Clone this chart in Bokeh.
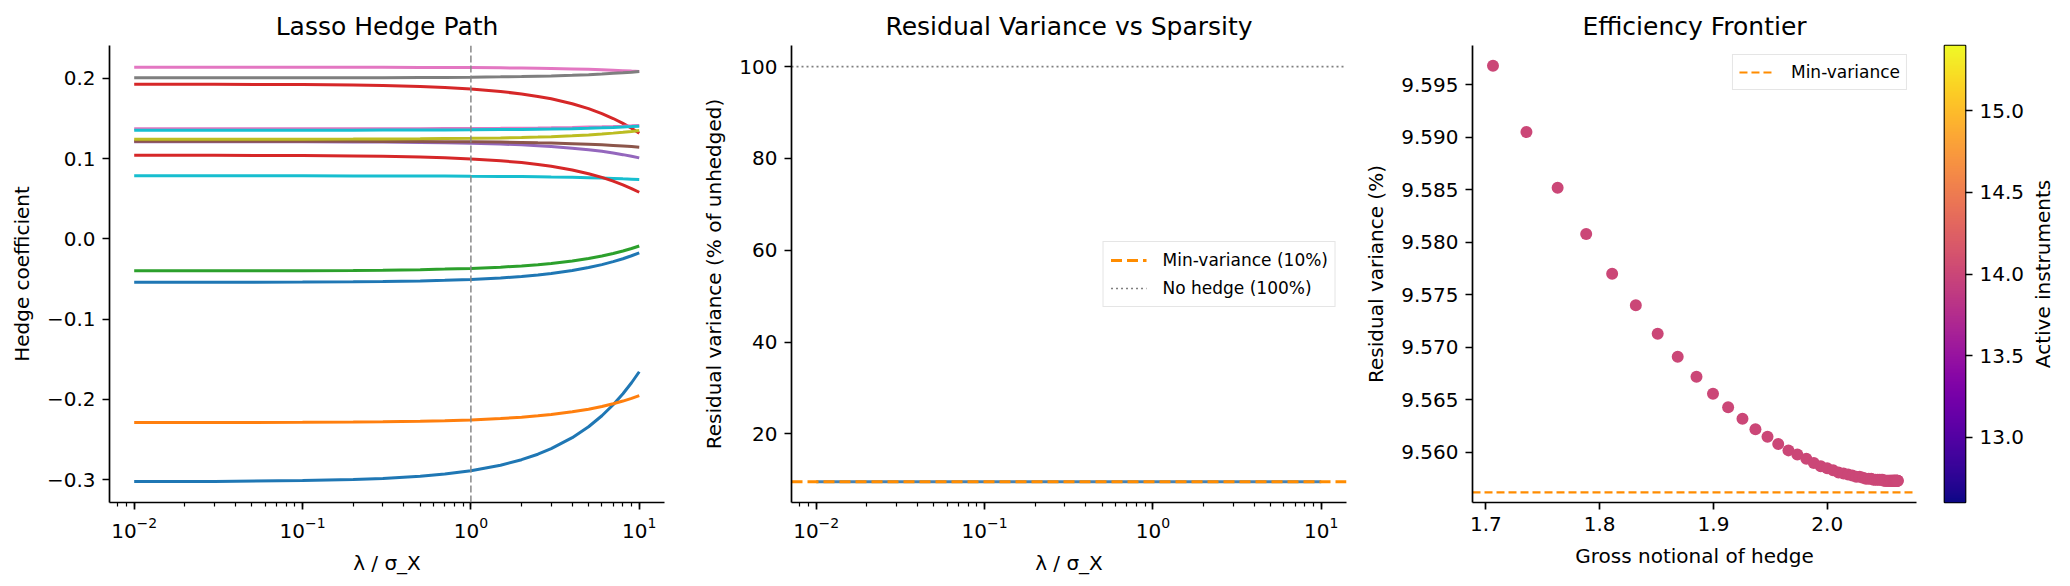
import numpy as np
from bokeh.plotting import figure
from bokeh.layouts import row
from bokeh.models import (Range1d, FixedTicker, LogTicker, Span, Legend, LegendItem,
                          LinearColorMapper)
from bokeh.palettes import Plasma256
from bokeh.embed import file_html
from bokeh.resources import INLINE

FONT = "DejaVu Sans"

# ---------------- Lasso hedge path: coefficient of each active instrument vs lambda
lam_path = [0.01, 0.03, 0.1, 0.2, 0.3, 0.5, 0.7, 1, 1.5, 2, 2.5, 3, 4, 5, 6, 7, 8, 9, 10]

coef_inst00 = [-0.3023, -0.3020, -0.3010, -0.2997, -0.2983, -0.2956, -0.2928, -0.2887, -0.2819, -0.2750,
               -0.2682, -0.2613, -0.2476, -0.2340, -0.2203, -0.2066, -0.1929, -0.1792, -0.1655]
coef_inst01 = [-0.2288, -0.2287, -0.2285, -0.2281, -0.2278, -0.2271, -0.2265, -0.2255, -0.2238, -0.2221,
               -0.2204, -0.2188, -0.2154, -0.2121, -0.2087, -0.2054, -0.2020, -0.1987, -0.1953]
coef_inst02 = [-0.0399, -0.0398, -0.0396, -0.0393, -0.0390, -0.0384, -0.0377, -0.0368, -0.0353, -0.0337,
               -0.0322, -0.0306, -0.0275, -0.0244, -0.0214, -0.0183, -0.0152, -0.0121, -0.0090]
coef_inst03 = [0.1925, 0.1924, 0.1920, 0.1914, 0.1908, 0.1895, 0.1883, 0.1865, 0.1834, 0.1804,
               0.1773, 0.1743, 0.1682, 0.1621, 0.1559, 0.1498, 0.1437, 0.1376, 0.1315]
coef_inst04 = [0.1210, 0.1209, 0.1208, 0.1206, 0.1204, 0.1200, 0.1196, 0.1190, 0.1180, 0.1170,
               0.1160, 0.1149, 0.1129, 0.1109, 0.1089, 0.1069, 0.1048, 0.1028, 0.1008]
coef_inst05 = [0.1215, 0.1215, 0.1214, 0.1214, 0.1213, 0.1211, 0.1210, 0.1208, 0.1204, 0.1200,
               0.1196, 0.1193, 0.1185, 0.1178, 0.1170, 0.1163, 0.1155, 0.1148, 0.1140]
coef_inst06 = [0.2137, 0.2137, 0.2136, 0.2136, 0.2135, 0.2134, 0.2133, 0.2132, 0.2129, 0.2126,
               0.2124, 0.2121, 0.2115, 0.2110, 0.2105, 0.2099, 0.2094, 0.2088, 0.2083]
coef_inst07 = [0.2005, 0.2005, 0.2006, 0.2007, 0.2007, 0.2009, 0.2010, 0.2013, 0.2017, 0.2021,
               0.2025, 0.2028, 0.2036, 0.2044, 0.2052, 0.2060, 0.2067, 0.2075, 0.2083]
coef_inst08 = [0.1240, 0.1240, 0.1241, 0.1242, 0.1243, 0.1245, 0.1248, 0.1251, 0.1256, 0.1262,
               0.1267, 0.1272, 0.1283, 0.1294, 0.1305, 0.1316, 0.1326, 0.1337, 0.1348]
coef_inst09 = [0.0784, 0.0784, 0.0784, 0.0783, 0.0783, 0.0782, 0.0781, 0.0779, 0.0777, 0.0775,
               0.0773, 0.0770, 0.0766, 0.0761, 0.0756, 0.0752, 0.0747, 0.0743, 0.0738]
coef_inst10 = [-0.0542, -0.0541, -0.0538, -0.0535, -0.0531, -0.0524, -0.0516, -0.0505, -0.0487, -0.0468,
               -0.0450, -0.0432, -0.0395, -0.0358, -0.0321, -0.0284, -0.0248, -0.0211, -0.0174]
coef_inst13 = [0.1041, 0.1040, 0.1036, 0.1032, 0.1027, 0.1018, 0.1009, 0.0995, 0.0972, 0.0949,
               0.0926, 0.0903, 0.0857, 0.0811, 0.0765, 0.0718, 0.0672, 0.0626, 0.0580]
coef_inst16 = [0.1370, 0.1370, 0.1370, 0.1371, 0.1371, 0.1372, 0.1373, 0.1374, 0.1376, 0.1378,
               0.1380, 0.1382, 0.1386, 0.1391, 0.1395, 0.1399, 0.1403, 0.1407, 0.1411]
coef_inst19 = [0.1352, 0.1352, 0.1353, 0.1353, 0.1354, 0.1355, 0.1356, 0.1357, 0.1360, 0.1362,
               0.1365, 0.1367, 0.1372, 0.1377, 0.1382, 0.1387, 0.1392, 0.1397, 0.1402]

coef_paths = [coef_inst00, coef_inst01, coef_inst02, coef_inst03, coef_inst04, coef_inst05,
              coef_inst06, coef_inst07, coef_inst08, coef_inst09, coef_inst10, coef_inst13,
              coef_inst16, coef_inst19]
coef_colors = ["#1f77b4", "#ff7f0e", "#2ca02c", "#d62728", "#9467bd", "#8c564b",
               "#e377c2", "#7f7f7f", "#bcbd22", "#17becf", "#1f77b4", "#d62728",
               "#e377c2", "#17becf"]
chosen_lambda = 1.0

# ---------------- Residual variance along the path (% of unhedged)
resid_lam = [0.01, 0.1, 0.3, 1, 2, 3, 5, 7, 10]
resid_pct = [9.5573, 9.5573, 9.5574, 9.5577, 9.5589, 9.5609, 9.5672, 9.5767, 9.5968]
min_variance_pct = 9.5562
no_hedge_pct = 100.0

# ---------------- Efficiency frontier: gross notional vs residual variance
gross_notional = [1.7063, 1.7357, 1.7631, 1.7882, 1.8110, 1.8318, 1.8510, 1.8686, 1.8851, 1.8996,
                  1.9129, 1.9255, 1.9369, 1.9475, 1.9569, 1.9659, 1.9737, 1.9816, 1.9882, 1.9943,
                  1.9999, 2.0051, 2.0099, 2.0143, 2.0183, 2.0220, 2.0254, 2.0285, 2.0314, 2.0340,
                  2.0364, 2.0386, 2.0406, 2.0425, 2.0442, 2.0458, 2.0473, 2.0486, 2.0498, 2.0509,
                  2.0519, 2.0528, 2.0536, 2.0544, 2.0551, 2.0557, 2.0563, 2.0568, 2.0573, 2.0577,
                  2.0581, 2.0585, 2.0588, 2.0591, 2.0594, 2.0597, 2.0600, 2.0603, 2.0606, 2.0609,
                  2.0612, 2.0615, 2.0618, 2.0620]
frontier_resid = [9.5968, 9.5905, 9.5852, 9.5808, 9.5770, 9.5740, 9.5713, 9.5691, 9.5672, 9.5656,
                  9.5643, 9.5632, 9.5622, 9.5615, 9.5608, 9.5602, 9.5598, 9.5594, 9.5590, 9.5587,
                  9.5585, 9.5583, 9.5581, 9.5580, 9.5579, 9.5578, 9.5577, 9.5577, 9.5576, 9.5575,
                  9.5575, 9.5575, 9.5574, 9.5574, 9.5574, 9.5574, 9.5574, 9.5574, 9.5573, 9.5573,
                  9.5573, 9.5573, 9.5573, 9.5573, 9.5573, 9.5573, 9.5573, 9.5573, 9.5573, 9.5573,
                  9.5573, 9.5573, 9.5573, 9.5573, 9.5573, 9.5573, 9.5573, 9.5573, 9.5573, 9.5573,
                  9.5573, 9.5573, 9.5573, 9.5573]
active_instruments = 14
cbar_low, cbar_high = 12.6, 15.4
cbar_ticks = [13.0, 13.5, 14.0, 14.5, 15.0]

MINVAR_COLOR = "#ff8c00"
LAM_RANGE = (10 ** -2.1467, 10 ** 1.15)


def style(p):
    p.outline_line_color = None
    p.background_fill_color = "white"
    p.border_fill_color = "white"
    p.grid.visible = False
    p.title.text_font = FONT
    p.title.text_font_size = "25px"
    p.title.text_font_style = "normal"
    p.title.text_color = "black"
    p.title.align = "center"
    for ax in p.axis:
        ax.axis_line_color = "black"
        ax.axis_line_width = 1.7
        ax.major_tick_line_color = "black"
        ax.major_tick_line_width = 1.7
        ax.major_tick_out = 7
        ax.major_tick_in = 0
        ax.minor_tick_line_color = "black"
        ax.minor_tick_line_width = 1.2
        ax.minor_tick_out = 4
        ax.minor_tick_in = 0
        ax.major_label_text_font = FONT
        ax.major_label_text_font_size = "20px"
        ax.major_label_text_color = "black"
        ax.axis_label_text_font = FONT
        ax.axis_label_text_font_size = "20px"
        ax.axis_label_text_font_style = "normal"
        ax.axis_label_text_color = "black"
        ax.major_label_standoff = 7
        ax.axis_label_standoff = 10


def style_legend(lg):
    lg.label_text_font = FONT
    lg.label_text_font_size = "17px"
    lg.label_text_color = "black"
    lg.glyph_width = 36
    lg.glyph_height = 22
    lg.label_height = 22
    lg.label_standoff = 16
    lg.spacing = 6
    lg.padding = 7
    lg.margin = 10
    lg.border_line_color = "#cccccc"
    lg.border_line_width = 1.5
    lg.background_fill_alpha = 0.8


# ---------------- Panel 1: Lasso hedge path
p1 = figure(width=690, height=586, x_axis_type="log",
            x_range=Range1d(*LAM_RANGE), y_range=Range1d(-0.3283, 0.2407),
            title="Lasso Hedge Path", output_backend="svg", toolbar_location=None,
            min_border_left=109, min_border_right=26, min_border_top=45, min_border_bottom=84)
for vals, col in zip(coef_paths, coef_colors):
    p1.line(lam_path, vals, line_color=col, line_width=3)
p1.add_layout(Span(location=chosen_lambda, dimension="height", line_color="#888888",
                   line_width=1.5, line_dash="7 3"))
style(p1)
p1.xaxis.ticker = LogTicker(num_minor_ticks=10)
p1.xaxis.axis_label = "λ / σ_X"
p1.yaxis.axis_label = "Hedge coefficient"
p1.yaxis.ticker = FixedTicker(ticks=[-0.3, -0.2, -0.1, 0.0, 0.1, 0.2])
p1.yaxis.major_label_overrides = {-0.3: "−0.3", -0.2: "−0.2", -0.1: "−0.1",
                                  0.0: "0.0", 0.1: "0.1", 0.2: "0.2"}
p1.yaxis.minor_tick_line_color = None

# ---------------- Panel 2: residual variance vs sparsity
p2 = figure(width=670, height=586, x_axis_type="log",
            x_range=Range1d(*LAM_RANGE), y_range=Range1d(5.05, 104.6),
            title="Residual Variance vs Sparsity", output_backend="svg", toolbar_location=None,
            min_border_left=101, min_border_right=14, min_border_top=45, min_border_bottom=84)
p2.line(resid_lam, resid_pct, line_color="steelblue", line_width=3)
r_min = p2.line([LAM_RANGE[0], LAM_RANGE[1]], [min_variance_pct, min_variance_pct],
                line_color=MINVAR_COLOR, line_width=3, line_dash="11 5")
r_none = p2.line([LAM_RANGE[0], LAM_RANGE[1]], [no_hedge_pct, no_hedge_pct],
                 line_color="#808080", line_width=1.7, line_dash="2 3")
style(p2)
p2.xaxis.ticker = LogTicker(num_minor_ticks=10)
p2.xaxis.axis_label = "λ / σ_X"
p2.yaxis.axis_label = "Residual variance (% of unhedged)"
p2.yaxis.ticker = FixedTicker(ticks=[20, 40, 60, 80, 100])
p2.yaxis.minor_tick_line_color = None
lg2 = Legend(items=[LegendItem(label="Min-variance (10%)", renderers=[r_min]),
                    LegendItem(label="No hedge (100%)", renderers=[r_none])],
             location="center_right")
style_legend(lg2)
p2.add_layout(lg2, "center")

# ---------------- Panel 3: efficiency frontier
GX = (1.6883, 2.0784)
p3 = figure(width=570, height=586, x_range=Range1d(*GX), y_range=Range1d(9.55524, 9.59873),
            title="Efficiency Frontier", output_backend="svg", toolbar_location=None,
            min_border_left=112, min_border_right=14, min_border_top=45, min_border_bottom=84)
r_front = p3.line([GX[0], GX[1]], [min_variance_pct, min_variance_pct],
                  line_color=MINVAR_COLOR, line_width=2.2, line_dash="8 4")
mapper = LinearColorMapper(palette=Plasma256, low=cbar_low, high=cbar_high)
point_color = Plasma256[int(round((active_instruments - cbar_low) / (cbar_high - cbar_low) * 255))]
p3.scatter(gross_notional, frontier_resid, size=12, fill_color=point_color, line_color=None)
style(p3)
p3.xaxis.axis_label = "Gross notional of hedge"
p3.yaxis.axis_label = "Residual variance (%)"
p3.xaxis.ticker = FixedTicker(ticks=[1.7, 1.8, 1.9, 2.0])
p3.xaxis.major_label_overrides = {1.7: "1.7", 1.8: "1.8", 1.9: "1.9", 2.0: "2.0"}
y3_ticks = [9.560, 9.565, 9.570, 9.575, 9.580, 9.585, 9.590, 9.595]
p3.yaxis.ticker = FixedTicker(ticks=y3_ticks)
p3.yaxis.major_label_overrides = {t: f"{t:.3f}" for t in y3_ticks}
p3.axis.minor_tick_line_color = None
lg3 = Legend(items=[LegendItem(label="Min-variance", renderers=[r_front])], location="top_right")
style_legend(lg3)
lg3.margin = 9
lg3.padding = 6
p3.add_layout(lg3, "center")

# ---------------- Colorbar: active instruments
p4 = figure(width=97, height=586, x_range=Range1d(0, 1), y_range=Range1d(cbar_low, cbar_high),
            output_backend="svg", toolbar_location=None, x_axis_location=None,
            y_axis_location="right",
            min_border_left=14, min_border_right=60, min_border_top=45, min_border_bottom=84)
grad = np.linspace(cbar_low, cbar_high, 256).reshape(256, 1)
p4.image(image=[grad], x=0, y=cbar_low, dw=1, dh=cbar_high - cbar_low, color_mapper=mapper)
style(p4)
p4.outline_line_color = "black"
p4.outline_line_width = 1.7
p4.yaxis.ticker = FixedTicker(ticks=cbar_ticks)
p4.yaxis.major_label_overrides = {t: f"{t:.1f}" for t in cbar_ticks}
p4.yaxis.minor_tick_line_color = None
p4.yaxis.axis_line_color = None

# colorbar caption, read from bottom to top
p5 = figure(width=43, height=586, x_range=Range1d(0, 1), y_range=Range1d(0, 1),
            title="Active instruments", title_location="left",
            output_backend="svg", toolbar_location=None,
            x_axis_location=None, y_axis_location=None,
            min_border_left=27, min_border_right=0, min_border_top=45, min_border_bottom=84)
style(p5)
p5.title.text_font_size = "20px"
p5.title.standoff = 0
p5.title.offset = 0

layout = row(p1, p2, p3, p4, p5, spacing=0)
open("out.html", "w").write(file_html(layout, INLINE))
